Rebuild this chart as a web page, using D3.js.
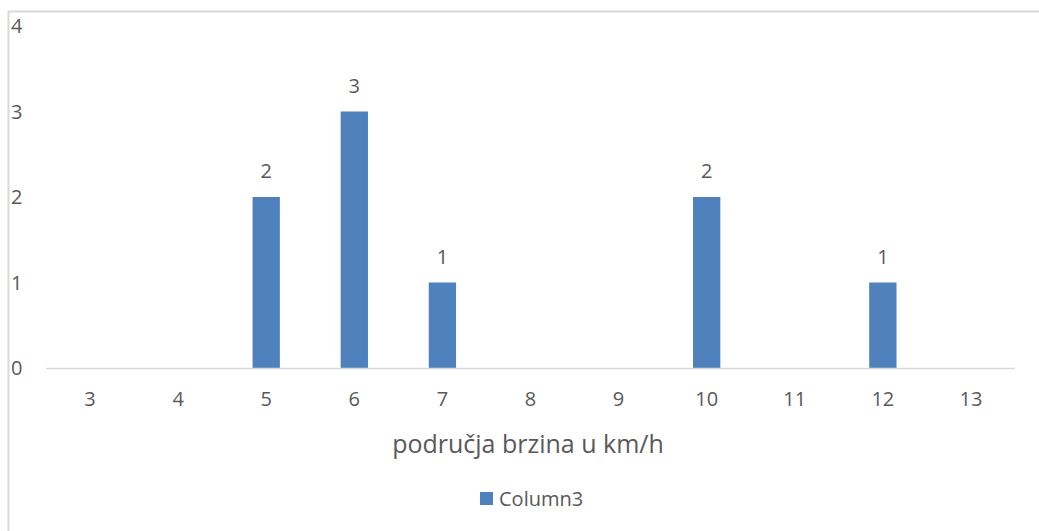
<!DOCTYPE html>
<html>
<head>
<meta charset="utf-8">
<script src="https://cdn.jsdelivr.net/npm/d3@7"></script>
<style>
  body { margin: 0; background: #fff; }
  text { font-family: "Open Sans", sans-serif; fill: #595959; }
</style>
</head>
<body>
<div id="chart"></div>
<script>
// chart data
var categories = ["3", "4", "5", "6", "7", "8", "9", "10", "11", "12", "13"];
var values = [0, 0, 2, 3, 1, 0, 0, 2, 0, 1, 0];
var yTicks = [0, 1, 2, 3, 4];
var seriesName = "Column3";
var axisTitle = "područja brzina u km/h";

var w = 1039, h = 531;
var barColor = "#4f81bd";

var svg = d3.select("#chart")
    .append("svg")
    .attr("width", w)
    .attr("height", h);

// outer frame (only left and top edges are in view)
svg.append("path")
    .attr("d", "M8.5," + h + "V11.5H" + w)
    .attr("fill", "none")
    .attr("stroke", "#d9d9d9")
    .attr("stroke-width", 2);

var x = d3.scaleBand()
    .domain(categories)
    .range([46, 1015])
    .paddingInner(0.69)
    .paddingOuter(0.345);

var y = d3.scaleLinear()
    .domain([0, 4])
    .range([368, 26]);

// y labels
svg.selectAll(".ylab")
    .data(yTicks)
    .enter()
    .append("text")
    .attr("class", "ylab")
    .attr("x", 11)
    .attr("y", function(d) { return y(d); })
    .attr("dy", "0.35em")
    .attr("font-size", "20px")
    .text(function(d) { return d; });

// bars
svg.selectAll(".bar")
    .data(values)
    .enter()
    .append("rect")
    .attr("class", "bar")
    .attr("x", function(d, i) { return x(categories[i]); })
    .attr("y", function(d) { return y(d); })
    .attr("width", x.bandwidth())
    .attr("height", function(d) { return y(0) - y(d); })
    .attr("fill", barColor);

// x axis line
svg.append("line")
    .attr("x1", 46).attr("x2", 1015)
    .attr("y1", y(0) + 0.5).attr("y2", y(0) + 0.5)
    .attr("stroke", "#d9d9d9")
    .attr("stroke-width", 1.5);

// x labels
svg.selectAll(".xlab")
    .data(categories)
    .enter()
    .append("text")
    .attr("class", "xlab")
    .attr("x", function(d) { return x(d) + x.bandwidth() / 2; })
    .attr("y", 399)
    .attr("dy", "0.35em")
    .attr("text-anchor", "middle")
    .attr("font-size", "20px")
    .text(function(d) { return d; });

// data labels (only for non-zero bars)
values.forEach(function(v, i) {
    if (v <= 0) return;
    svg.append("text")
        .attr("x", x(categories[i]) + x.bandwidth() / 2)
        .attr("y", y(v) - 26)
        .attr("dy", "0.35em")
        .attr("text-anchor", "middle")
        .attr("font-size", "20px")
        .text(v);
});

// axis title
svg.append("text")
    .attr("x", 528)
    .attr("y", 444)
    .attr("dy", "0.35em")
    .attr("text-anchor", "middle")
    .attr("font-size", "25px")
    .text(axisTitle);

// legend
svg.append("rect")
    .attr("x", 480).attr("y", 492)
    .attr("width", 13).attr("height", 13)
    .attr("fill", barColor);
svg.append("text")
    .attr("x", 499)
    .attr("y", 499)
    .attr("dy", "0.35em")
    .attr("font-size", "20px")
    .text(seriesName);
</script>
</body>
</html>
